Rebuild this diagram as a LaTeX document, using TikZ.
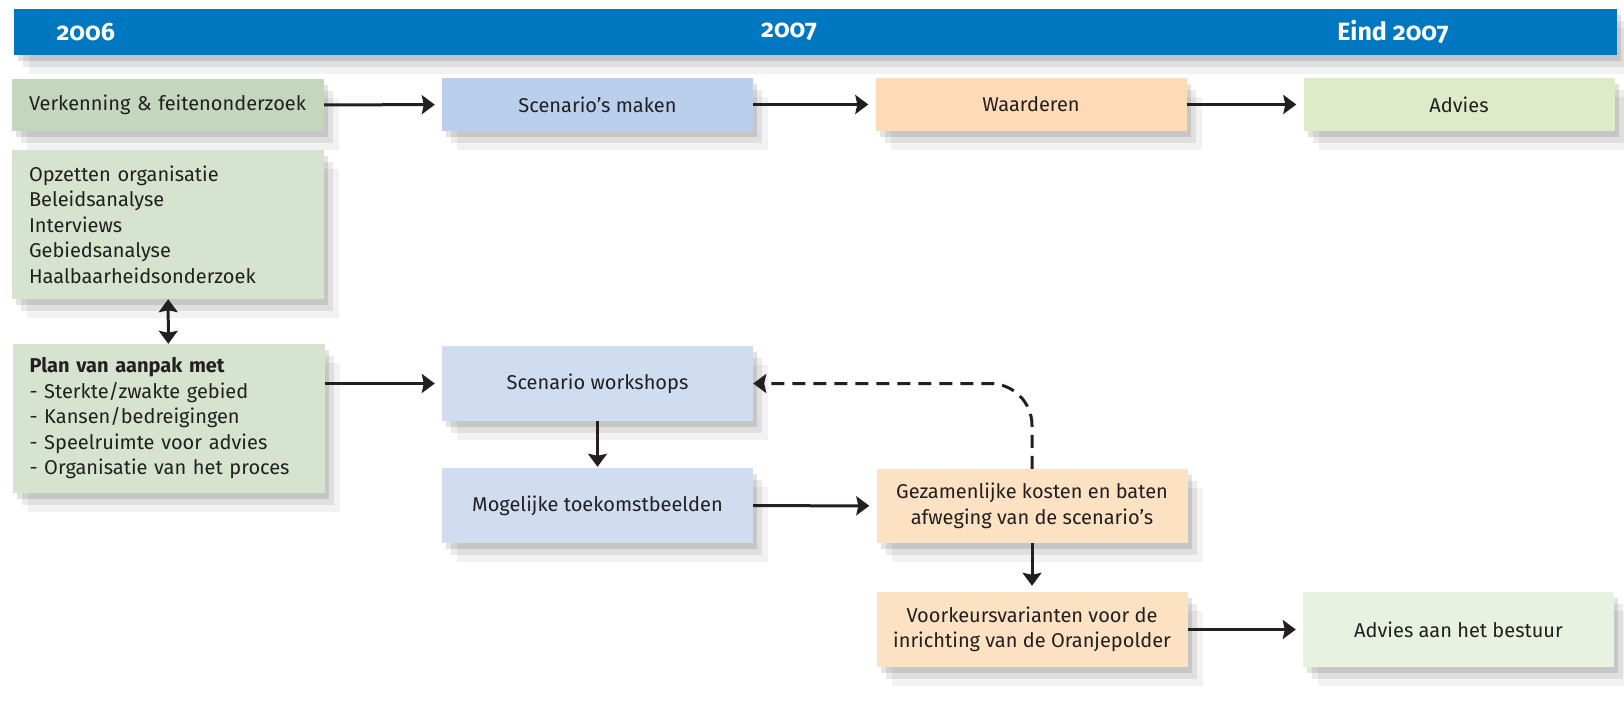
\documentclass[tikz,border=0pt]{standalone}
\usepackage{fontspec}
\setmainfont{Fira Sans}
\usepackage{tikz}
\usetikzlibrary{arrows.meta}
\usetikzlibrary{shadows}
\definecolor{barblue}{RGB}{0,119,193}
\definecolor{ink}{RGB}{35,31,32}
\definecolor{greenA}{RGB}{196,214,189}
\definecolor{greenB}{RGB}{213,227,207}
\definecolor{blueA}{RGB}{186,207,235}
\definecolor{blueB}{RGB}{208,221,240}
\definecolor{orangeA}{RGB}{253,219,182}
\definecolor{orangeB}{RGB}{252,225,195}
\definecolor{adviceA}{RGB}{221,235,201}
\definecolor{adviceB}{RGB}{232,242,224}

\begin{document}
\begin{tikzpicture}[x=1pt, y=-1pt,
		soft/.style={drop shadow={shadow xshift=4pt, shadow yshift=-6pt, fill=black, opacity=.11},
			drop shadow={shadow xshift=9pt, shadow yshift=-12pt, fill=black, opacity=.08},
			drop shadow={shadow xshift=15pt, shadow yshift=-19pt, fill=black, opacity=.05}},
		box/.style={soft, rectangle, inner sep=0pt, minimum width=311pt, text=ink, align=center,
			font=\fontsize{20}{25.5}\selectfont},
		leftbox/.style={box, align=left, text width=278pt, inner xsep=17pt},
		year/.style={text=white, font=\fontsize{25}{28}\selectfont\bfseries\addfontfeatures{Numbers=OldStyle}},
		arr/.style={-{Stealth[length=13pt, width=19pt, inset=2pt]}, line width=3pt, draw=ink},
		dblarr/.style={arr, {Stealth[length=13pt, width=19pt, inset=2pt]}-{Stealth[length=13pt, width=19pt, inset=2pt]}}]
			\useasboundingbox (0, 0) rectangle (1624, 706);
			\node at (815.5, 32) [soft, fill=barblue, minimum width=1603pt, minimum height=46pt] (bar) {};
			\node at (53, 32) [year, anchor=west] (year1) {2006};
			\node at (789, 32) [year] (year2) {2007};
			\node at (1393, 32) [year] (year3) {Eind 2007};
			\node at (168, 105) [leftbox, fill=greenA, minimum height=52pt] (verk1) {\mbox{Verkenning \& feitenonderzoek}};
			\node at (168, 224.5) [leftbox, fill=greenB, minimum height=149pt] (taken1) {Opzetten organisatie\\Beleidsanalyse\\Interviews\\Gebiedsanalyse\\Haalbaarheidsonderzoek};
			\node at (168.5, 418.5) [leftbox, fill=greenB, minimum height=149pt] (plan1) {\textbf{Plan van aanpak met}\\- Sterkte/zwakte gebied\\- Kansen/bedreigingen\\- Speelruimte voor advies\\- Organisatie van het proces};
			\node at (597.5, 104.5) [box, fill=blueA, minimum height=53pt] (maken1) {Scenario’s maken};
			\node at (1031, 104.5) [box, fill=orangeA, minimum height=53pt] (waard1) {Waarderen};
			\node at (1459, 104.5) [box, fill=adviceA, minimum height=53pt] (advies1) {Advies};
			\node at (597.5, 383.5) [box, fill=blueB, minimum height=75pt] (workshop1) {Scenario workshops};
			\node at (597.5, 505.5) [box, fill=blueB, minimum height=75pt] (beeld1) {Mogelijke toekomstbeelden};
			\node at (1032, 506) [box, fill=orangeB, minimum height=74pt] (afweg1) {Gezamenlijke kosten en baten\\afweging van de scenario’s};
			\node at (1032, 629.5) [box, fill=orangeB, minimum height=75pt] (voork1) {Voorkeursvarianten voor de\\inrichting van de Oranjepolder};
			\node at (1458.5, 629.5) [box, fill=adviceB, minimum height=75pt] (advies2) {Advies aan het bestuur};
			\draw [arr, shorten >=7pt](verk1) -- (maken1);
			\draw [arr, shorten >=7pt](maken1) -- (waard1);
			\draw [arr, shorten >=7pt](waard1) -- (advies1);
			\draw [dblarr](taken1) -- (plan1);
			\draw [arr, shorten >=7pt](plan1.east |- workshop1) -- (workshop1);
			\draw [arr, shorten >=1pt](workshop1) -- (beeld1);
			\draw [arr, shorten >=7pt](beeld1) -- (afweg1);
			\draw [arr, shorten >=6pt](afweg1) -- (voork1);
			\draw [arr, shorten >=7pt](voork1) -- (advies2);
			\draw [arr, dash pattern=on 13pt off 8pt, rounded corners=42pt](afweg1.north) |- (workshop1.east);
		\end{tikzpicture}
\end{document}
